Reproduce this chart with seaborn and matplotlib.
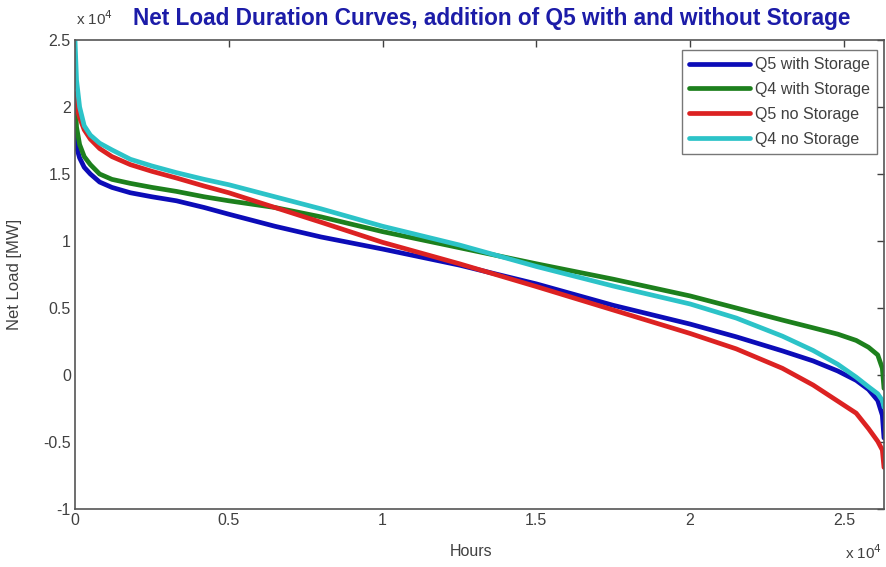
import numpy as np
import pandas as pd
import matplotlib
matplotlib.use("Agg")
import matplotlib.pyplot as plt
import seaborn as sns

# ---- data ----
hours = [0, 50, 150, 300, 500, 800, 1200, 1800, 2500, 3300, 4200, 5000, 6500, 8000,
         10000, 12500, 15000, 17500, 20000, 21500, 23000, 24000, 24800, 25400,
         25800, 26100, 26250, 26304]

q5_with_storage = [18500, 17000, 16200, 15500, 15000, 14400, 14000, 13600, 13300, 13000,
                   12500, 12000, 11100, 10300, 9400, 8200, 6800, 5200, 3800, 2850,
                   1800, 1050, 300, -400, -1080, -1900, -3000, -4700]
q4_with_storage = [20500, 18500, 17200, 16300, 15700, 15000, 14600, 14300, 14000, 13700,
                   13300, 13000, 12500, 11800, 10700, 9500, 8300, 7150, 5900, 5000,
                   4100, 3520, 3050, 2580, 2070, 1500, 500, -1000]
q5_no_storage = [21000, 20000, 19200, 18300, 17600, 16900, 16300, 15700, 15200, 14700,
                 14100, 13600, 12500, 11400, 9900, 8300, 6600, 4850, 3100, 1950,
                 500, -750, -1950, -2850, -4000, -4950, -5600, -6900]
q4_no_storage = [25000, 22000, 20000, 18600, 17900, 17300, 16800, 16100, 15600, 15100,
                 14600, 14200, 13300, 12400, 11100, 9700, 8100, 6640, 5300, 4250,
                 2900, 1830, 800, -160, -880, -1400, -1900, -2400]

series_names = ["Q5 with Storage", "Q4 with Storage", "Q5 no Storage", "Q4 no Storage"]
series_values = [q5_with_storage, q4_with_storage, q5_no_storage, q4_no_storage]

x_ticks = [0, 5000, 10000, 15000, 20000, 25000]
x_tick_labels = ["0", "0.5", "1", "1.5", "2", "2.5"]
y_ticks = [-10000, -5000, 0, 5000, 10000, 15000, 20000, 25000]
y_tick_labels = ["-1", "-0.5", "0", "0.5", "1", "1.5", "2", "2.5"]

title = "Net Load Duration Curves, addition of Q5 with and without Storage"
x_label = "Hours"
y_label = "Net Load [MW]"

# ---- build long-form table ----
rows = []
for name, vals in zip(series_names, series_values):
    for h, v in zip(hours, vals):
        rows.append({"Hours": h, "Net Load": v, "Series": name})
df = pd.DataFrame(rows)

sns.set_style("white")
plt.rcParams["font.family"] = ["Liberation Sans", "DejaVu Sans"]

palette = {"Q5 with Storage": "#0c0cb8", "Q4 with Storage": "#1d801d",
           "Q5 no Storage": "#dc2222", "Q4 no Storage": "#2cc3c8"}

fig = plt.figure(figsize=(8.86, 5.67), dpi=100)
ax = fig.add_axes([75 / 886, 1 - 509 / 567, (884 - 75) / 886, (509 - 40) / 567])

sns.lineplot(data=df, x="Hours", y="Net Load", hue="Series", hue_order=series_names,
             palette=palette, linewidth=3.4, ax=ax, sort=False, estimator=None)

ax.set_xlim(0, 26304)
ax.set_ylim(-10000, 25000)
ax.set_xticks(x_ticks)
ax.set_xticklabels(x_tick_labels)
ax.set_yticks(y_ticks)
ax.set_yticklabels(y_tick_labels)

tick_col = "#404040"
ax.tick_params(direction="in", length=5, width=1, colors=tick_col, labelsize=11.5,
               top=True, right=True, labelcolor=tick_col, pad=3)
for s in ax.spines.values():
    s.set_color("#555555")
    s.set_linewidth(1.2)

ax.set_xlabel(x_label, fontsize=11.5, color=tick_col)
ax.set_ylabel(y_label, fontsize=12, color=tick_col)
ax.xaxis.set_label_coords(0.49, -0.075)
ax.yaxis.set_label_coords(-0.066, 0.5)

ax.set_title(title, fontsize=16.3, fontweight="bold", color="#1c1ca8", pad=11,
             x=0.515)

# exponent markers (MATLAB-style)
fig.text(76 / 886, 1 - 19 / 567, r"x 10$^{4}$", fontsize=11, color=tick_col,
         ha="left", va="center")
fig.text(882 / 886, 1 - 553 / 567, r"x 10$^{4}$", fontsize=11, color=tick_col,
         ha="right", va="center")

leg = ax.legend(loc="upper right", frameon=True, fancybox=False, fontsize=11.5,
                handlelength=3.8, borderpad=0.45, labelspacing=0.62,
                bbox_to_anchor=(0.9913, 0.9787), handletextpad=0.3,
                borderaxespad=0)
leg.get_frame().set_edgecolor("#555555")
leg.get_frame().set_linewidth(1.0)
for t in leg.get_texts():
    t.set_color(tick_col)
for l in leg.get_lines():
    l.set_linewidth(3.4)

fig.savefig("out.png", dpi=100)
